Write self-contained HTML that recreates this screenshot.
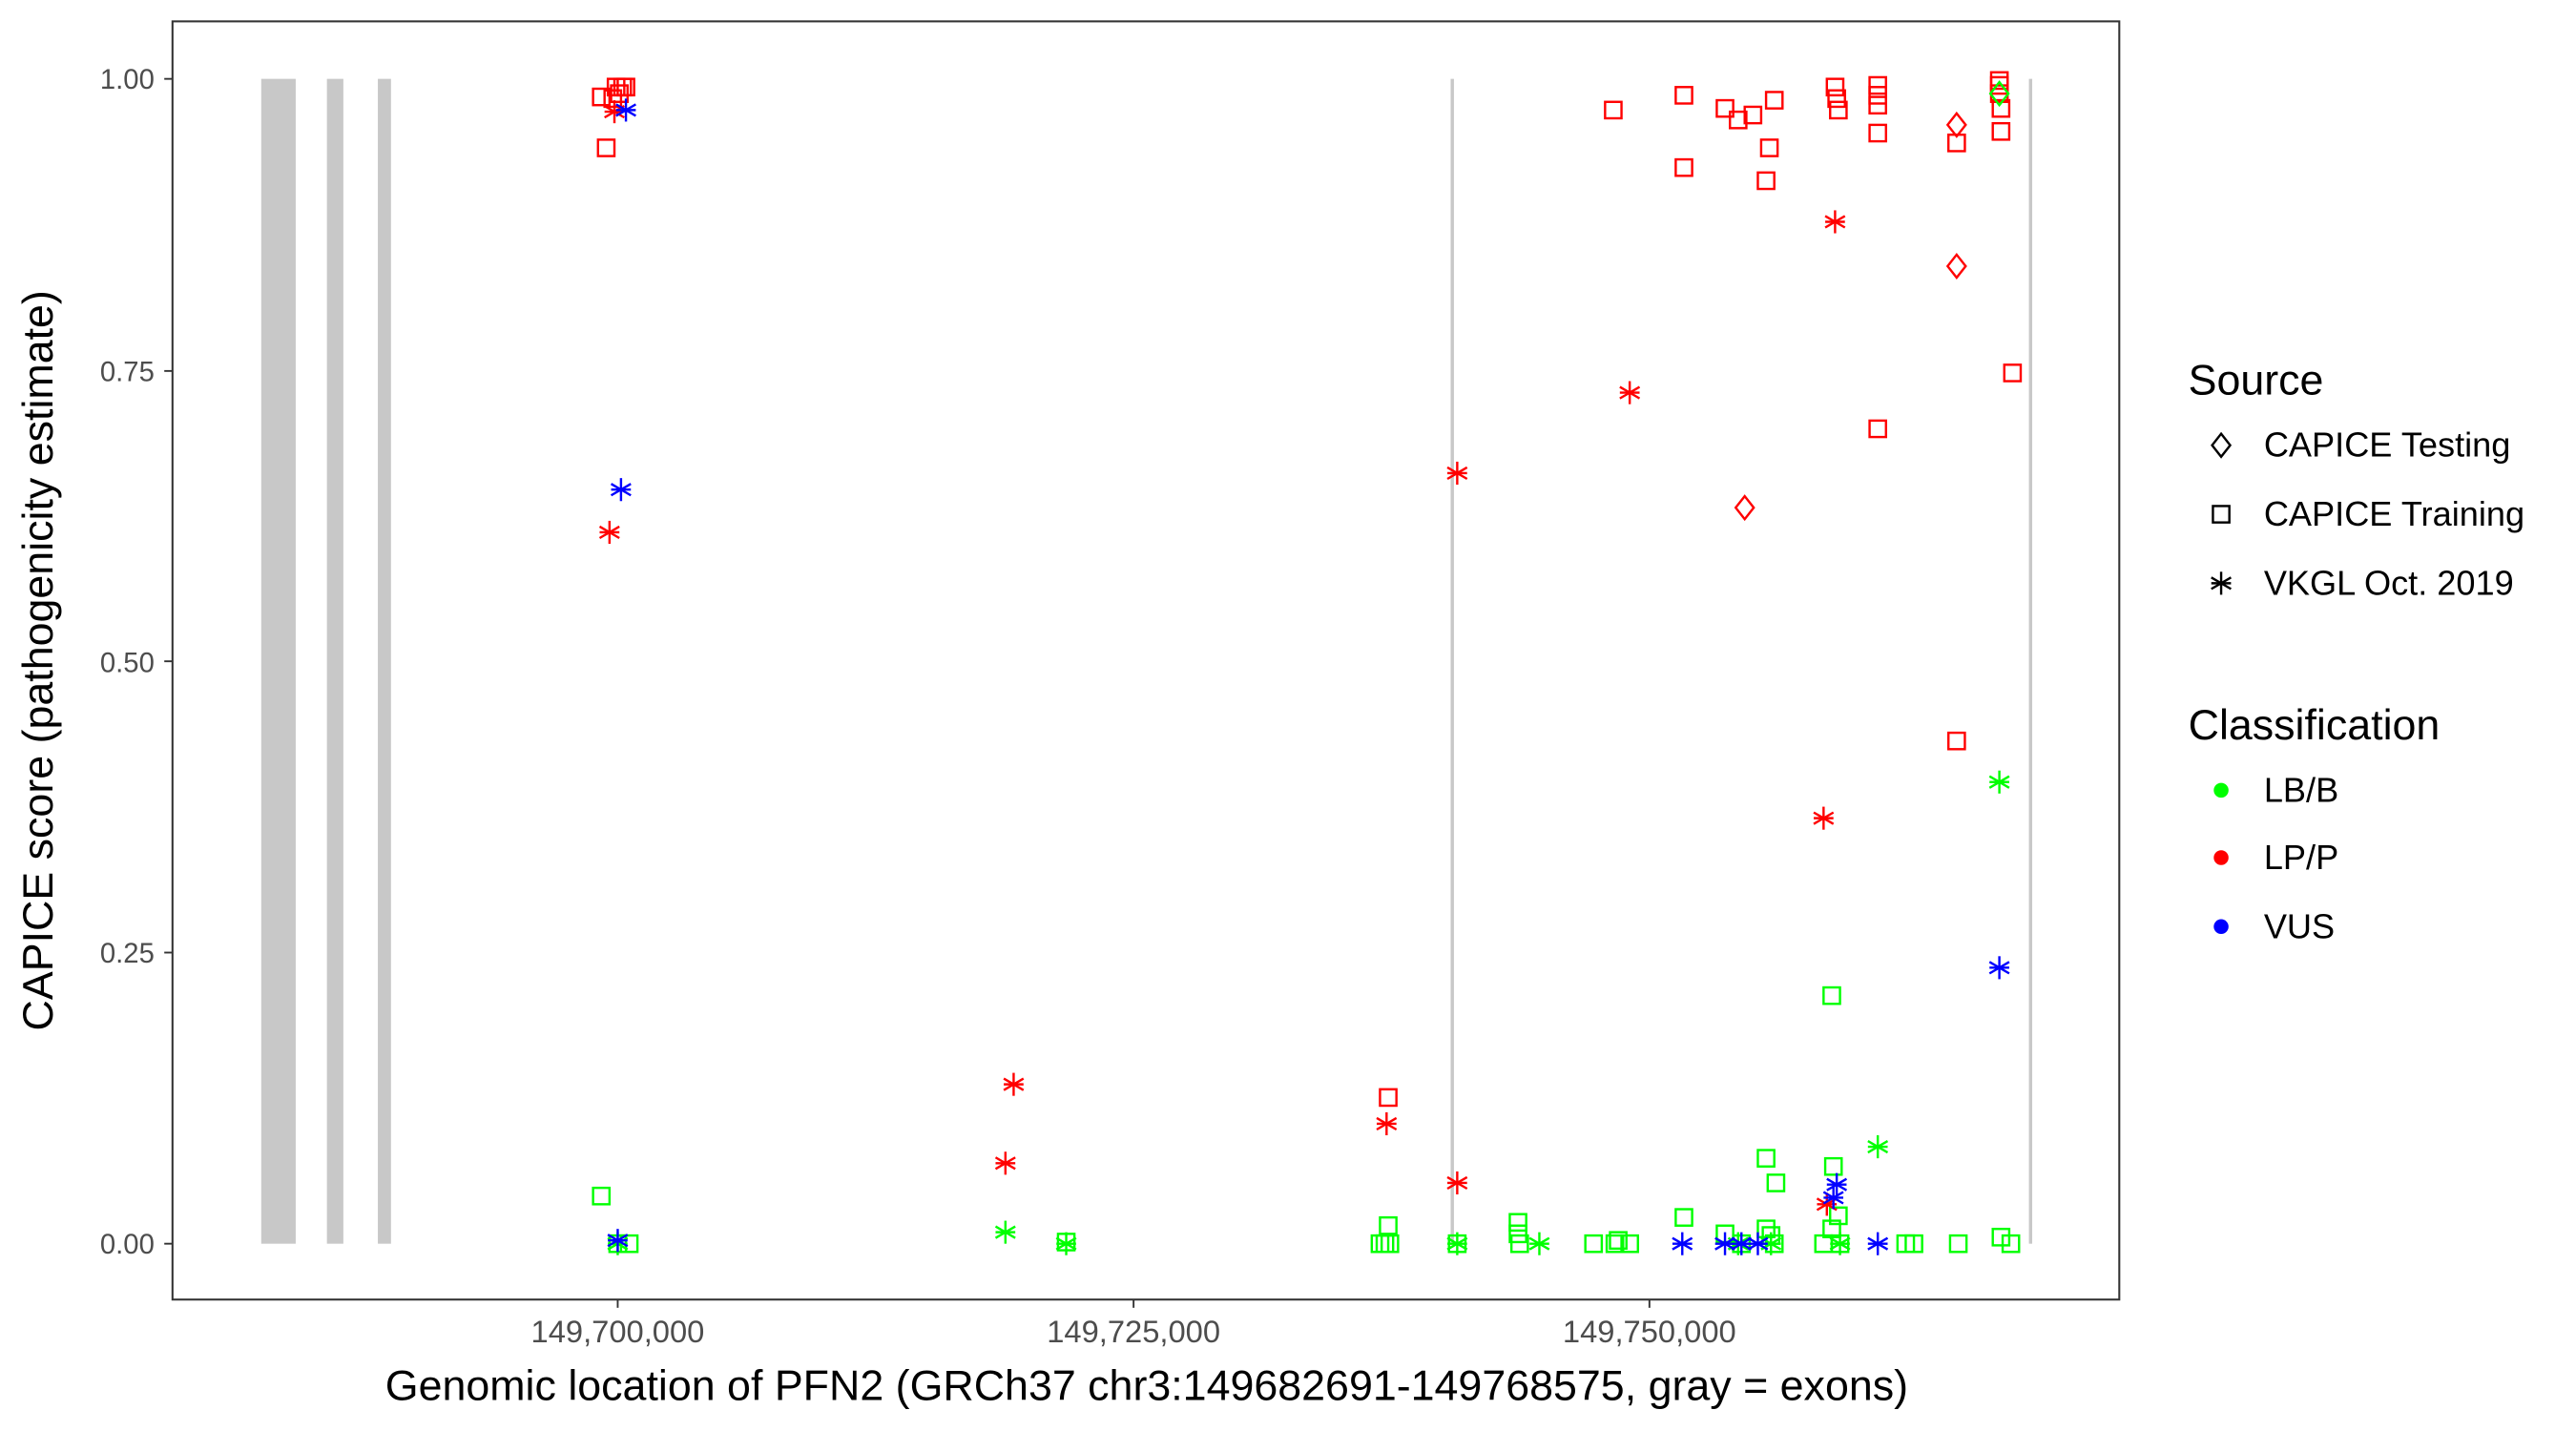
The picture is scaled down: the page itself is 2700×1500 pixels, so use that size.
<!DOCTYPE html>
<html><head><meta charset="utf-8"><style>
html,body{margin:0;padding:0;background:#fff;}
svg{display:block;}
text{font-family:"Liberation Sans",Arial,sans-serif;}
</style></head><body>
<svg width="2700" height="1500" viewBox="0 0 1568 871" preserveAspectRatio="none" xmlns="http://www.w3.org/2000/svg">
<defs>
<g id="sq"><rect x="-5" y="-5" width="10" height="10" fill="none" stroke="currentColor" stroke-width="1.4"/></g>
<g id="dm"><path d="M0,-7 L5.5,0 L0,7 L-5.5,0 Z" fill="none" stroke="currentColor" stroke-width="1.4"/></g>
<g id="as" stroke="currentColor" stroke-width="1.4"><line x1="0" y1="-7" x2="0" y2="7"/><line x1="-6" y1="-3.5" x2="6" y2="3.5"/><line x1="-6" y1="3.5" x2="6" y2="-3.5"/><line x1="-6" y1="0" x2="6" y2="0"/></g>
</defs>
<rect width="1568" height="871" fill="#fff"/>
<g fill="#c8c8c8">
<rect x="159" y="48" width="21" height="709"/>
<rect x="199" y="48" width="10" height="709"/>
<rect x="230" y="48" width="8" height="709"/>
<rect x="883" y="48" width="2" height="709"/>
<rect x="1235" y="48" width="2" height="709"/>
</g>
<rect x="105" y="13" width="1185" height="778" fill="none" stroke="#333" stroke-width="1.2"/>
<g stroke="#333" stroke-width="1.1">
<line x1="100" y1="48" x2="105" y2="48"/><line x1="100" y1="225.8" x2="105" y2="225.8"/><line x1="100" y1="402.5" x2="105" y2="402.5"/><line x1="100" y1="579.8" x2="105" y2="579.8"/><line x1="100" y1="757" x2="105" y2="757"/>
<line x1="376" y1="791" x2="376" y2="796"/><line x1="690" y1="791" x2="690" y2="796"/><line x1="1004" y1="791" x2="1004" y2="796"/>
</g>
<g font-size="17" fill="#4d4d4d" text-anchor="end">
<text x="94" y="54">1.00</text><text x="94" y="232">0.75</text><text x="94" y="409">0.50</text><text x="94" y="586">0.25</text><text x="94" y="763">0.00</text>
</g>
<g font-size="19" fill="#4d4d4d" text-anchor="middle">
<text x="376" y="817">149,700,000</text><text x="690" y="817">149,725,000</text><text x="1004" y="817">149,750,000</text>
</g>
<text x="698" y="852" font-size="26" text-anchor="middle" fill="#000">Genomic location of PFN2 (GRCh37 chr3:149682691-149768575, gray = exons)</text>
<text transform="translate(32,402) rotate(-90)" font-size="26" text-anchor="middle" fill="#000">CAPICE score (pathogenicity estimate)</text>
<text x="1332" y="240" font-size="26">Source</text>
<use href="#dm" x="1352" y="271" style="color:#000"/>
<text x="1378" y="278" font-size="21">CAPICE Testing</text>
<use href="#sq" x="1352" y="313" style="color:#000"/>
<text x="1378" y="320" font-size="21">CAPICE Training</text>
<use href="#as" x="1352" y="355" style="color:#000"/>
<text x="1378" y="362" font-size="21">VKGL Oct. 2019</text>
<text x="1332" y="450" font-size="26">Classification</text>
<circle cx="1352" cy="481" r="4.5" fill="#0f0"/><text x="1378" y="488" font-size="21">LB/B</text>
<circle cx="1352" cy="522" r="4.5" fill="#f00"/><text x="1378" y="529" font-size="21">LP/P</text>
<circle cx="1352" cy="564" r="4.5" fill="#00f"/><text x="1378" y="571" font-size="21">VUS</text>
<g style="color:#0f0">
<use href="#sq" x="366" y="728"/><use href="#sq" x="383" y="757"/><use href="#sq" x="376" y="757"/><use href="#as" x="376" y="757"/>
<use href="#as" x="612" y="750"/><use href="#as" x="649" y="757"/><use href="#sq" x="649" y="756"/>
<use href="#sq" x="845" y="746"/><use href="#sq" x="843" y="757"/><use href="#sq" x="846" y="757"/><use href="#sq" x="840" y="757"/>
<use href="#as" x="887" y="757"/><use href="#sq" x="887" y="757"/>
<use href="#sq" x="924" y="744"/><use href="#sq" x="924" y="751"/><use href="#sq" x="925" y="757"/><use href="#as" x="937" y="757"/>
<use href="#sq" x="970" y="757"/><use href="#sq" x="983" y="757"/><use href="#sq" x="985" y="755"/><use href="#sq" x="992" y="757"/>
<use href="#sq" x="1025" y="741"/>
<use href="#sq" x="1075" y="705"/><use href="#sq" x="1081" y="720"/><use href="#sq" x="1075" y="748"/><use href="#sq" x="1050" y="751"/><use href="#sq" x="1060" y="757"/><use href="#sq" x="1078" y="752"/><use href="#sq" x="1080" y="757"/><use href="#as" x="1058" y="757"/><use href="#as" x="1078" y="757"/>
<use href="#sq" x="1115" y="606"/><use href="#sq" x="1116" y="710"/><use href="#sq" x="1119" y="740"/><use href="#sq" x="1115" y="748"/><use href="#sq" x="1110" y="757"/><use href="#sq" x="1120" y="757"/><use href="#as" x="1120" y="757"/>
<use href="#as" x="1143" y="698"/><use href="#sq" x="1160" y="757"/><use href="#sq" x="1165" y="757"/>
<use href="#sq" x="1192" y="757"/>
<use href="#as" x="1217" y="476"/><use href="#sq" x="1218" y="753"/><use href="#sq" x="1224" y="757"/>
</g>
<g style="color:#f00">
<use href="#sq" x="366" y="59"/><use href="#sq" x="375" y="53"/><use href="#sq" x="379" y="53"/><use href="#sq" x="381" y="53"/><use href="#sq" x="377" y="57"/><use href="#sq" x="369" y="90"/><use href="#sq" x="373" y="60"/>
<use href="#as" x="374" y="68"/><use href="#as" x="371" y="324"/>
<use href="#as" x="612" y="708"/><use href="#as" x="617" y="660"/>
<use href="#sq" x="845" y="668"/><use href="#as" x="844" y="684"/>
<use href="#as" x="887" y="288"/><use href="#as" x="887" y="720"/>
<use href="#sq" x="982" y="67"/><use href="#as" x="992" y="239"/>
<use href="#sq" x="1025" y="58"/><use href="#sq" x="1025" y="102"/>
<use href="#sq" x="1050" y="66"/><use href="#sq" x="1058" y="73"/><use href="#sq" x="1067" y="70"/><use href="#sq" x="1080" y="61"/><use href="#sq" x="1077" y="90"/><use href="#sq" x="1075" y="110"/><use href="#dm" x="1062" y="309"/>
<use href="#sq" x="1117" y="53"/><use href="#sq" x="1118" y="60"/><use href="#sq" x="1119" y="67"/>
<use href="#as" x="1117" y="135"/><use href="#as" x="1110" y="498"/><use href="#as" x="1112" y="733"/>
<use href="#sq" x="1143" y="52"/><use href="#sq" x="1143" y="58"/><use href="#sq" x="1143" y="64"/><use href="#sq" x="1143" y="81"/><use href="#sq" x="1143" y="261"/>
<use href="#dm" x="1191" y="76"/><use href="#dm" x="1191" y="162"/><use href="#sq" x="1191" y="87"/><use href="#sq" x="1191" y="451"/>
<use href="#sq" x="1217" y="49"/><use href="#sq" x="1217" y="52"/><use href="#sq" x="1217" y="57"/><use href="#sq" x="1218" y="66"/><use href="#sq" x="1218" y="80"/><use href="#sq" x="1225" y="227"/>
</g>
<g style="color:#0f0"><use href="#dm" x="1217" y="57"/></g>
<g style="color:#00f">
<use href="#as" x="381" y="67"/><use href="#as" x="378" y="298"/><use href="#as" x="376" y="755"/>
<use href="#as" x="1024" y="757"/><use href="#as" x="1050" y="757"/><use href="#as" x="1060" y="757"/><use href="#as" x="1070" y="757"/>
<use href="#as" x="1118" y="721"/><use href="#as" x="1116" y="729"/>
<use href="#as" x="1143" y="757"/>
<use href="#as" x="1217" y="589"/>
</g>
</svg>
</body></html>
